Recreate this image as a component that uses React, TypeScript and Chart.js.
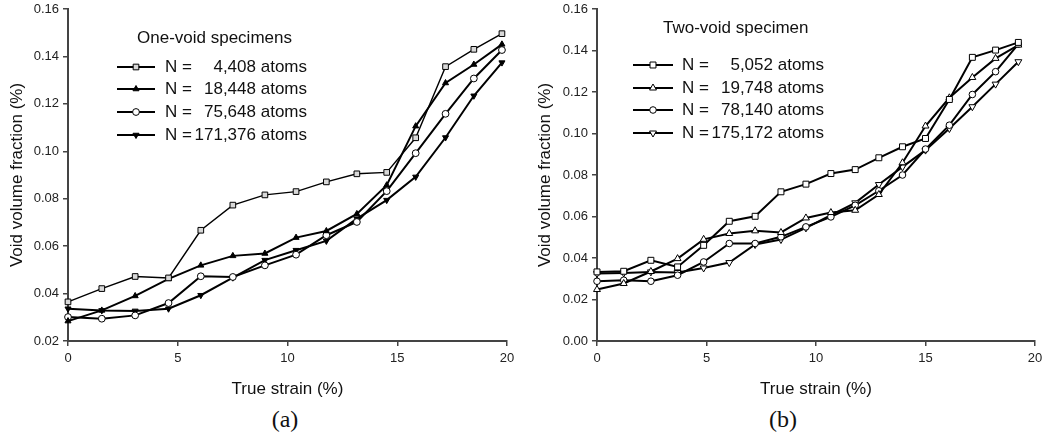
import React, { useEffect, useRef } from 'react';
import { Chart, registerables } from 'chart.js';

Chart.register(...registerables);

// ---------- Data: panel (a) one-void specimens ----------
const strainA = [0, 1.54, 3.06, 4.58, 6.05, 7.51, 8.97, 10.39, 11.77, 13.16, 14.52, 15.84, 17.2, 18.49, 19.77];
const oneVoid4408 = [0.0365, 0.0421, 0.0472, 0.0466, 0.0667, 0.0773, 0.0816, 0.083, 0.0871, 0.0905, 0.0911, 0.1057, 0.1357, 0.143, 0.1496];
const oneVoid18448 = [0.0284, 0.0329, 0.039, 0.0462, 0.0519, 0.0559, 0.0569, 0.0636, 0.0664, 0.0736, 0.0857, 0.1106, 0.1288, 0.1366, 0.1451];
const oneVoid75648 = [0.0301, 0.0294, 0.0308, 0.036, 0.0473, 0.047, 0.0519, 0.0564, 0.0646, 0.0702, 0.0832, 0.0992, 0.1158, 0.1307, 0.1427];
const oneVoid171376 = [0.0336, 0.0329, 0.0327, 0.0336, 0.0393, 0.0467, 0.0541, 0.0583, 0.0622, 0.0716, 0.0794, 0.0892, 0.1058, 0.1234, 0.1374];
const labelsA = ['4,408 atoms', '18,448 atoms', '75,648 atoms', '171,376 atoms'];
const titleA = 'One-void specimens';
const yTicksA = { min: 0.02, max: 0.16, step: 0.02 };

// ---------- Data: panel (b) two-void specimen ----------
const strainB = [0, 1.22, 2.46, 3.68, 4.87, 6.04, 7.22, 8.4, 9.54, 10.68, 11.79, 12.87, 13.95, 15.0, 16.09, 17.14, 18.2, 19.24];
const twoVoid5052 = [0.0333, 0.0336, 0.0389, 0.0357, 0.0461, 0.0577, 0.0601, 0.0719, 0.0756, 0.0807, 0.0826, 0.0883, 0.0936, 0.0976, 0.1164, 0.1367, 0.1402, 0.1439];
const twoVoid19748 = [0.0248, 0.0277, 0.0335, 0.0397, 0.049, 0.0518, 0.0531, 0.0523, 0.0593, 0.0619, 0.063, 0.0706, 0.0859, 0.1036, 0.1172, 0.127, 0.1362, 0.1426];
const twoVoid78140 = [0.0288, 0.0293, 0.0288, 0.0317, 0.0381, 0.047, 0.047, 0.0502, 0.055, 0.0598, 0.0654, 0.0724, 0.08, 0.0925, 0.104, 0.1188, 0.1298, 0.1431];
const twoVoid175172 = [0.0325, 0.0328, 0.0333, 0.033, 0.0352, 0.0378, 0.0465, 0.0489, 0.0545, 0.0606, 0.0666, 0.0754, 0.0839, 0.092, 0.1024, 0.1129, 0.1238, 0.1346];
const labelsB = ['5,052 atoms', '19,748 atoms', '78,140 atoms', '175,172 atoms'];
const titleB = 'Two-void specimen';
const yTicksB = { min: 0, max: 0.16, step: 0.02 };

const xTicks = { min: 0, max: 20, step: 5 };
const xTitle = 'True strain (%)';
const yTitle = 'Void volume fraction (%)';

const SANS = '"Liberation Sans", Arial, Helvetica, sans-serif';

function toPoints(xs: number[], ys: number[]) {
  return ys.map((y, i) => ({ x: xs[i], y }));
}

function drawMarker(ctx: CanvasRenderingContext2D, style: string, x: number, y: number, r: number, rotation: number, fill: string, stroke: string, lw: number) {
  ctx.save();
  ctx.beginPath();
  if (style === 'rect') {
    const s = Math.SQRT1_2 * r;
    ctx.rect(x - s, y - s, 2 * s, 2 * s);
  } else if (style === 'circle') {
    ctx.arc(x, y, r, 0, Math.PI * 2);
  } else if (style === 'triangle') {
    let rad = (rotation * Math.PI) / 180;
    ctx.moveTo(x + Math.sin(rad) * r, y - Math.cos(rad) * r);
    rad += (Math.PI * 2) / 3;
    ctx.lineTo(x + Math.sin(rad) * r, y - Math.cos(rad) * r);
    rad += (Math.PI * 2) / 3;
    ctx.lineTo(x + Math.sin(rad) * r, y - Math.cos(rad) * r);
    ctx.closePath();
  }
  ctx.fillStyle = fill;
  ctx.fill();
  ctx.lineWidth = lw;
  ctx.strokeStyle = stroke;
  ctx.stroke();
  ctx.restore();
}

const customLegend = {
  id: 'customLegend',
  afterDraw(chart: any, _args: any, opts: any) {
    const ctx: CanvasRenderingContext2D = chart.ctx;
    ctx.save();
    ctx.fillStyle = '#111';
    ctx.font = `17px ${SANS}`;
    ctx.textBaseline = 'middle';
    ctx.textAlign = 'left';
    ctx.fillText(opts.title, opts.titleX, opts.titleY);
    chart.data.datasets.forEach((ds: any, i: number) => {
      const y = opts.rows[i];
      ctx.beginPath();
      ctx.moveTo(opts.lineX1, y);
      ctx.lineTo(opts.lineX2, y);
      ctx.lineWidth = 2;
      ctx.strokeStyle = ds.borderColor;
      ctx.stroke();
      drawMarker(ctx, ds.pointStyle, (opts.lineX1 + opts.lineX2) / 2, y, ds.pointRadius, ds.pointRotation || 0, ds.pointBackgroundColor, ds.borderColor, ds.pointBorderWidth);
      ctx.fillStyle = '#111';
      ctx.textAlign = 'left';
      ctx.fillText('N =', opts.textX, y);
      ctx.textAlign = 'right';
      ctx.fillText(opts.labels[i], opts.textRight, y);
    });
    ctx.restore();
  },
};

function makeConfig(p: any) {
  return {
    type: 'line',
    data: { datasets: p.datasets },
    options: {
      responsive: false,
      animation: false,
      events: [],
      layout: { padding: { left: p.padLeft, right: p.padRight, top: 9, bottom: 0 } },
      plugins: {
        legend: { display: false },
        tooltip: { enabled: false },
        customLegend: p.legend,
      },
      elements: { line: { tension: 0 } },
      scales: {
        x: {
          type: 'linear',
          min: xTicks.min,
          max: xTicks.max,
          afterFit: (s: any) => { s.height = 63; s.paddingLeft = 0; s.paddingRight = 0; },
          ticks: { stepSize: xTicks.step, color: '#222', font: { family: SANS, size: 13 }, padding: 5 },
          grid: { display: true, drawOnChartArea: false, drawTicks: true, tickLength: 5, color: '#444', lineWidth: 1.5 },
          border: { display: true, color: '#444', width: 2 },
          title: { display: true, text: xTitle, color: '#111', font: { family: SANS, size: 17 }, padding: { top: 4, bottom: 4 } },
        },
        y: {
          type: 'linear',
          min: p.yTicks.min,
          max: p.yTicks.max,
          afterFit: (s: any) => { s.width = p.yWidth; s.paddingTop = 0; s.paddingBottom = 0; },
          ticks: { stepSize: p.yTicks.step, color: '#222', font: { family: SANS, size: 13 }, padding: 4, callback: (v: number) => Number(v).toFixed(2) },
          grid: { display: true, drawOnChartArea: false, drawTicks: true, tickLength: 5, color: '#444', lineWidth: 1.5 },
          border: { display: true, color: '#444', width: 2 },
          title: { display: true, text: yTitle, color: '#111', font: { family: SANS, size: 17 }, padding: { top: 4, bottom: 4 } },
        },
      },
    },
    plugins: [customLegend],
  };
}

function series(xs: number[], ys: number[], style: string, r: number, fill: string, lw: number, rot = 0) {
  return {
    data: toPoints(xs, ys),
    borderColor: '#000',
    borderWidth: lw,
    pointStyle: style,
    pointRadius: r,
    pointRotation: rot,
    pointBackgroundColor: fill,
    pointBorderColor: '#000',
    pointBorderWidth: 1,
    fill: false,
    clip: false,
  };
}

const configA = () => makeConfig({
  padLeft: 3,
  padRight: 13,
  yWidth: 65,
  yTicks: yTicksA,
  datasets: [
    series(strainA, oneVoid4408, 'rect', 4, '#d8d8d8', 1.4),
    series(strainA, oneVoid18448, 'triangle', 3.5, '#000', 2),
    series(strainA, oneVoid75648, 'circle', 3.4, '#fff', 2),
    series(strainA, oneVoid171376, 'triangle', 3.5, '#000', 2, 180),
  ],
  legend: { title: titleA, titleX: 137, titleY: 38, rows: [67, 89, 112, 135], lineX1: 117, lineX2: 155, textX: 165, textRight: 307, labels: labelsA },
});

const configB = () => makeConfig({
  padLeft: 11,
  padRight: 7,
  yWidth: 66,
  yTicks: yTicksB,
  datasets: [
    series(strainB, twoVoid5052, 'rect', 4.2, '#fff', 2),
    series(strainB, twoVoid19748, 'triangle', 4, '#fff', 2),
    series(strainB, twoVoid78140, 'circle', 3.3, '#fff', 2),
    series(strainB, twoVoid175172, 'triangle', 4, '#fff', 2, 180),
  ],
  legend: { title: titleB, titleX: 143, titleY: 28, rows: [65, 88, 110, 133], lineX1: 113, lineX2: 153, textX: 162, textRight: 304, labels: labelsB },
});

function Panel({ make, left, width }: { make: () => any; left: number; width: number }) {
  const ref = useRef<HTMLCanvasElement | null>(null);
  useEffect(() => {
    if (!ref.current) return;
    const chart = new Chart(ref.current, make());
    return () => chart.destroy();
  }, []);
  return (
    <canvas ref={ref} width={width} height={404} style={{ position: 'absolute', left, top: 0, width, height: 404 }} />
  );
}

export default function App() {
  const caption: React.CSSProperties = {
    position: 'absolute',
    top: 404,
    width: 60,
    height: 32,
    lineHeight: '30px',
    textAlign: 'center',
    fontFamily: '"Liberation Serif", "Times New Roman", serif',
    fontSize: 24,
    color: '#111',
  };
  return (
    <div style={{ position: 'absolute', left: 0, top: 0, width: 1042, height: 436, background: '#fff', overflow: 'hidden' }}>
      <Panel make={configA} left={0} width={520} />
      <Panel make={configB} left={520} width={522} />
      <div style={{ ...caption, left: 285 - 30 }}>(a)</div>
      <div style={{ ...caption, left: 783 - 30 }}>(b)</div>
    </div>
  );
}
